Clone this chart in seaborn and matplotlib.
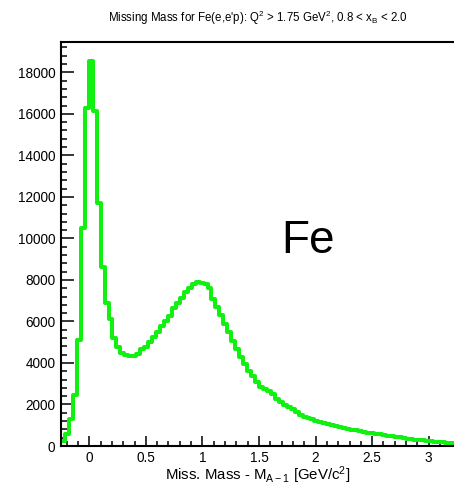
import numpy as np
import pandas as pd
import matplotlib
matplotlib.use("Agg")
import matplotlib.pyplot as plt
import seaborn as sns
from matplotlib.ticker import MultipleLocator

# ---- data ----
bin_lo = -0.25
bin_hi = 3.25
n_bins = 100
counts = [
    250, 600, 1300, 2450, 5100, 10500, 16300, 18550, 16150, 11700,
    8600, 6900, 6100, 5200, 4750, 4500, 4380, 4330, 4350, 4450,
    4650, 4780, 5000, 5250, 5500, 5800, 6000, 6250, 6650, 6900,
    7150, 7400, 7600, 7800, 7900, 7850, 7800, 7600, 7100, 6700,
    6300, 5900, 5500, 5050, 4650, 4300, 3950, 3600, 3350, 3100,
    2850, 2750, 2650, 2500, 2250, 2100, 1980, 1900, 1780, 1620,
    1500, 1420, 1350, 1280, 1200, 1150, 1100, 1060, 1020, 970,
    920, 880, 840, 790, 760, 720, 690, 650, 620, 590,
    560, 530, 500, 470, 440, 410, 390, 360, 340, 310,
    290, 270, 250, 230, 210, 190, 170, 150, 140, 130,
]
x_ticks = [0, 0.5, 1, 1.5, 2, 2.5, 3]
x_tick_labels = ["0", "0.5", "1", "1.5", "2", "2.5", "3"]
y_ticks = list(range(0, 18001, 2000))
title = r"Missing Mass for Fe(e,e'p): Q$^{2}$ > 1.75 GeV$^{2}$, 0.8 < x$_{B}$ < 2.0"
xlabel = r"Miss. Mass - M$_{A-1}$ [GeV/c$^{2}$]"
label = "Fe"

edges = [float(e) for e in np.linspace(bin_lo, bin_hi, n_bins + 1)]
centers = [0.5 * (edges[i] + edges[i + 1]) for i in range(n_bins)]
df = pd.DataFrame({"mm": centers, "w": counts})

sns.set_style("white")
plt.rcParams["font.family"] = ["Liberation Sans", "DejaVu Sans"]
plt.rcParams["mathtext.fontset"] = "custom"
plt.rcParams["mathtext.rm"] = "Liberation Sans"
plt.rcParams["mathtext.it"] = "Liberation Sans"
plt.rcParams["mathtext.default"] = "regular"
plt.rcParams["text.color"] = "black"

W, H = 454, 488
fig = plt.figure(figsize=(W / 100, H / 100), dpi=100)
ax_left, ax_right, ax_top, ax_bot = 61, 457, 41.7, 446
ax = fig.add_axes([ax_left / W, (H - ax_bot) / H, (ax_right - ax_left) / W, (ax_bot - ax_top) / H])

sns.histplot(data=df, x="mm", weights="w", bins=edges, element="step", fill=False,
             color="#11f011", linewidth=2.9, ax=ax)

ax.set_xlim(bin_lo, bin_hi)
ymax = max(counts) * 1.05
ax.set_ylim(0, ymax)
ax.set_xlabel("")
ax.set_ylabel("")
ax.set_xticks(x_ticks)
ax.set_xticklabels(x_tick_labels)
ax.set_yticks(y_ticks)
ax.set_yticklabels([str(v) for v in y_ticks])
ax.xaxis.set_minor_locator(MultipleLocator(0.1))
ax.yaxis.set_minor_locator(MultipleLocator(400))

ax.tick_params(axis="both", which="both", direction="in", color="black", width=1.1,
               labelsize=9.8, labelcolor="black", bottom=True, left=True,
               top=False, right=False)
ax.tick_params(axis="y", which="major", length=9, pad=4)
ax.tick_params(axis="y", which="minor", length=4.5)
ax.tick_params(axis="x", which="major", length=7.5, pad=3.5)
ax.tick_params(axis="x", which="minor", length=3.8)
for s in ax.spines.values():
    s.set_color("black")
    s.set_linewidth(1.5)

fig.text(258 / W, 1 - 18 / H, title, ha="center", va="center", fontsize=8.3, color="black")
fig.text(258 / W, 1 - 480 / H, xlabel, ha="center", va="baseline", fontsize=10.8, color="black")
fig.text(281 / W, 1 - 253 / H, label, ha="left", va="baseline", fontsize=33, color="black")

fig.savefig("out.png", dpi=100, facecolor="white")
